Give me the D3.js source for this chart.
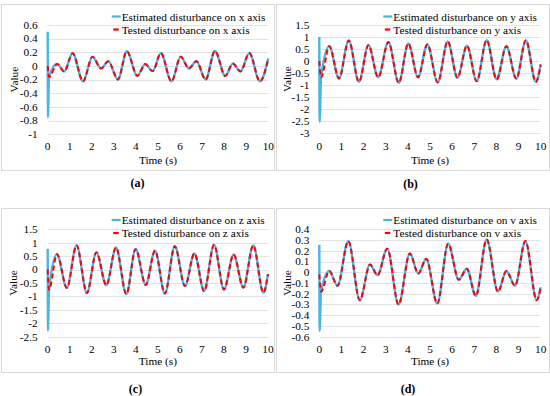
<!DOCTYPE html>
<html><head><meta charset="utf-8">
<script src="https://cdn.jsdelivr.net/npm/d3@7/dist/d3.min.js"></script>
<style>
body{margin:0;background:#fff}
svg{display:block}
text{font-family:"Liberation Serif","Times New Roman",Tinos,serif;fill:#000}
</style>
</head><body>
<svg id="chart" width="550" height="396"></svg>
<script>
// ---------- data ----------
const timeTicks = [0,1,2,3,4,5,6,7,8,9,10];

const xYTicks = [0.6,0.4,0.2,0,-0.2,-0.4,-0.6,-0.8,-1];
const xYLabels = ["0.6","0.4","0.2","0","-0.2","-0.4","-0.6","-0.8","-1"];
const yYTicks = [1.5,1,0.5,0,-0.5,-1,-1.5,-2,-2.5,-3];
const yYLabels = ["1.5","1","0.5","0","-0.5","-1","-1.5","-2","-2.5","-3"];
const zYTicks = [1.5,1,0.5,0,-0.5,-1,-1.5,-2,-2.5];
const zYLabels = ["1.5","1","0.5","0","-0.5","-1","-1.5","-2","-2.5"];
const vYTicks = [0.4,0.3,0.2,0.1,0,-0.1,-0.2,-0.3,-0.4,-0.5,-0.6];
const vYLabels = ["0.4","0.3","0.2","0.1","0","-0.1","-0.2","-0.3","-0.4","-0.5","-0.6"];

const xTested = [[0,0],[0.06,-0.16],[0.43,0.03],[0.75,-0.08],[1.13,0.185],[1.6,-0.225],[2.03,0.135],[2.42,-0.037],[2.75,0.07],[3.18,-0.198],[3.59,0.215],[4.06,-0.145],[4.42,0.028],[4.76,-0.075],[5.13,0.188],[5.61,-0.225],[6.03,0.137],[6.4,-0.037],[6.74,0.07],[7.16,-0.198],[7.58,0.22],[8.05,-0.145],[8.39,0.035],[8.74,-0.08],[9.14,0.19],[9.62,-0.225],[10,0.11]];
const yTested = [[0,0],[0.08,-0.68],[0.45,0.62],[0.89,-0.72],[1.33,0.86],[1.79,-0.86],[2.22,0.66],[2.66,-0.67],[3.12,0.79],[3.59,-0.9],[4.02,0.73],[4.46,-0.67],[4.88,0.69],[5.35,-0.88],[5.8,0.82],[6.24,-0.69],[6.67,0.64],[7.11,-0.83],[7.56,0.87],[8.01,-0.76],[8.45,0.62],[8.9,-0.73],[9.33,0.86],[9.78,-0.86],[10,-0.14]];
const zTested = [[0,0],[0.06,-0.75],[0.42,0.57],[0.87,-0.68],[1.31,0.9],[1.78,-0.87],[2.21,0.64],[2.66,-0.58],[3.1,0.82],[3.57,-0.91],[3.99,0.76],[4.45,-0.57],[4.87,0.7],[5.32,-0.89],[5.77,0.87],[6.23,-0.61],[6.66,0.6],[7.1,-0.8],[7.55,0.92],[8.0,-0.74],[8.44,0.56],[8.88,-0.67],[9.33,0.9],[9.79,-0.86],[10,-0.17]];
const vTested = [[0,-0.02],[0.08,-0.18],[0.45,0.012],[0.82,-0.125],[1.31,0.29],[1.83,-0.26],[2.29,0.072],[2.63,-0.027],[3.07,0.22],[3.58,-0.3],[4.09,0.175],[4.47,-0.012],[4.83,0.125],[5.33,-0.29],[5.82,0.265],[6.3,-0.07],[6.66,0.033],[7.07,-0.22],[7.56,0.305],[8.07,-0.18],[8.45,0.012],[8.84,-0.125],[9.31,0.29],[9.82,-0.26],[10,-0.14]];

// initial transient of the estimated disturbance
const xSpike = [[0,0.5],[0.015,-0.75]];
const ySpike = [[0,1.0],[0.015,-2.52]];
const zSpike = [[0,0.78],[0.015,-2.27]];
const vSpike = [[0,0.255],[0.015,-0.545]];

// ---------- drawing ----------
const svg = d3.select("#chart");
const BLUE = "#4ab4e6", RED = "#ff0000";
const FS = "11.3px";

const panels = [
  {axis:"x", tag:"(a)", tested:xTested, spike:xSpike, ticks:xYTicks, labels:xYLabels,
   box:[1,4,274,170], px:[47.7,268.3], py:[25,134.3], leg:[111.7,16.5], tickY:149.5, titleY:163.5, valueX:14, tagX:137.5, tagY:187},
  {axis:"y", tag:"(b)", tested:yTested, spike:ySpike, ticks:yYTicks, labels:yYLabels,
   box:[276,4,549,170], px:[319.3,540.7], py:[25,133.3], leg:[383.3,16.5], tickY:149.5, titleY:163.5, valueX:286.7, tagX:410.5, tagY:188},
  {axis:"z", tag:"(c)", tested:zTested, spike:zSpike, ticks:zYTicks, labels:zYLabels,
   box:[1,208,274,372], px:[47.7,268], py:[229.3,336.7], leg:[111.7,220], tickY:353, titleY:365, valueX:13.3, tagX:135.5, tagY:393},
  {axis:"v", tag:"(d)", tested:vTested, spike:vSpike, ticks:vYTicks, labels:vYLabels,
   box:[276,208,549,372], px:[319.3,540.7], py:[229.3,336.7], leg:[383.3,220], tickY:353, titleY:365, valueX:286.7, tagX:408, tagY:392.5}
];

panels.forEach((p, i) => {
  const g = svg.append("g");
  // chart area border
  g.append("rect").attr("x", p.box[0]+0.5).attr("y", p.box[1]+0.5)
    .attr("width", p.box[2]-p.box[0]).attr("height", p.box[3]-p.box[1])
    .attr("fill", "none").attr("stroke", "#d9d9d9").attr("stroke-width", 1);

  const x = d3.scaleLinear().domain([0,10]).range(p.px);
  const y = d3.scaleLinear().domain([d3.min(p.ticks), d3.max(p.ticks)]).range([p.py[1], p.py[0]]);

  // horizontal gridlines
  g.append("g").selectAll("line").data(p.ticks).join("line")
    .attr("x1", p.px[0]).attr("x2", p.px[1])
    .attr("y1", d => Math.round(y(d))+0.5).attr("y2", d => Math.round(y(d))+0.5)
    .attr("stroke", "#e3e3e3").attr("stroke-width", 1);

  // y tick labels
  g.append("g").selectAll("text").data(p.ticks).join("text")
    .attr("x", p.px[0]-10).attr("y", d => y(d)+3.8)
    .attr("text-anchor", "end").style("font-size", FS)
    .text((d, k) => p.labels[k]);

  // x tick labels
  g.append("g").selectAll("text").data(timeTicks).join("text")
    .attr("x", d => x(d)).attr("y", p.tickY)
    .attr("text-anchor", "middle").style("font-size", FS)
    .text(d => String(d));

  // axis titles
  g.append("text").attr("x", (p.px[0]+p.px[1])/2).attr("y", p.titleY)
    .attr("text-anchor", "middle").style("font-size", FS).text("Time (s)");
  g.append("text")
    .attr("transform", `translate(${p.valueX + 3.8},${(p.py[0]+p.py[1])/2}) rotate(-90)`)
    .attr("text-anchor", "middle").style("font-size", FS).text("Value");

  // clip
  const cid = "clip" + i;
  svg.append("clipPath").attr("id", cid).append("rect")
    .attr("x", p.px[0]-2).attr("y", p.py[0]-4).attr("width", p.px[1]-p.px[0]+4).attr("height", p.py[1]-p.py[0]+8);

  const line = d3.line().x(d => x(d[0])).y(d => y(d[1])).curve(d3.curveMonotoneX);
  const estimated = p.spike.concat(p.tested.slice(1));

  const plot = g.append("g").attr("clip-path", `url(#${cid})`);
  plot.append("path").attr("d", line(estimated)).attr("fill", "none")
    .attr("stroke", BLUE).attr("stroke-width", 2.4).attr("stroke-linejoin", "round");
  plot.append("path").attr("d", line(p.tested)).attr("fill", "none")
    .attr("stroke", RED).attr("stroke-width", 2.0).attr("stroke-dasharray", "5,3");

  // legend
  const lx = p.leg[0], ly = p.leg[1], gap = 13;
  g.append("line").attr("x1", lx).attr("x2", lx+9).attr("y1", ly).attr("y2", ly)
    .attr("stroke", BLUE).attr("stroke-width", 2.2);
  g.append("line").attr("x1", lx+1.5).attr("x2", lx+7).attr("y1", ly+gap).attr("y2", ly+gap)
    .attr("stroke", RED).attr("stroke-width", 2.2);
  g.append("text").attr("x", lx+10).attr("y", ly+4).style("font-size", FS)
    .text(`Estimated disturbance on ${p.axis} axis`);
  g.append("text").attr("x", lx+10).attr("y", ly+gap+4).style("font-size", FS)
    .text(`Tested disturbance on ${p.axis} axis`);

  // panel tag
  g.append("text").attr("x", p.tagX).attr("y", p.tagY).attr("text-anchor", "middle")
    .style("font-size", "12px").style("font-weight", "bold").text(p.tag);
});
</script>
</body></html>
